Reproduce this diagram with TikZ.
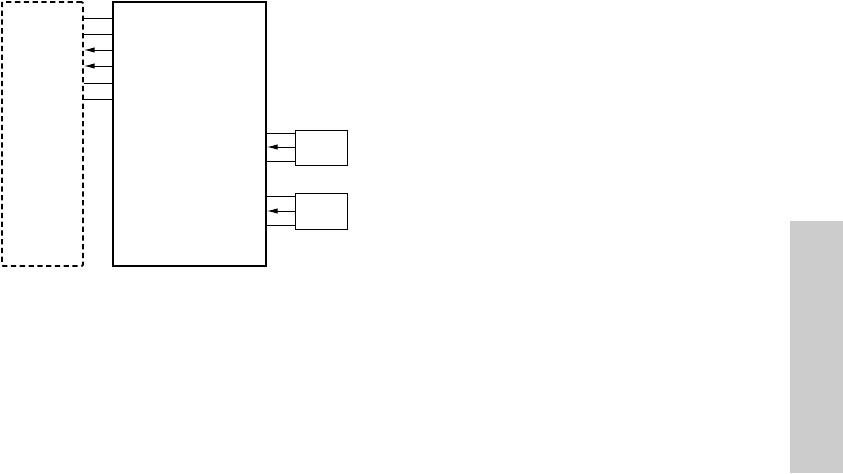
\documentclass[tikz,border=0pt]{standalone}
\usepackage{tikz}
\usetikzlibrary{positioning,arrows.meta,calc}
\usepackage{xcolor}

\begin{document}
\begin{tikzpicture}[x=0.03cm,y=-0.03cm,>={Latex[length=3.2mm,width=1.6mm]}]
\useasboundingbox (0,0) rectangle (843,473);
\tikzset{blk/.style={draw,line width=1.6pt,inner sep=0pt,anchor=north west},
  sig/.style={line width=0.8pt}}
\node[blk,dashed,dash pattern=on 4.5pt off 3pt,rounded corners=1pt,minimum width=81*0.03cm,minimum height=264*0.03cm] (ext) at (1,1) {};
\node[blk,minimum width=153*0.03cm,minimum height=264*0.03cm] (core) at (112,1) {};
\node[blk,line width=1.2pt,minimum width=52*0.03cm,minimum height=35*0.03cm] (dev1) at (295,130) {};
\node[blk,line width=1.2pt,minimum width=52*0.03cm,minimum height=36*0.03cm] (dev2) at (295,193) {};
\node[fill=black!20,inner sep=0pt,anchor=north west,minimum width=53*0.03cm,minimum height=252*0.03cm] (bar) at (790,221) {};
% bus between ext and core
\foreach \y/\tip in {18/-,34/-,50/->,66/->,83/-,99/-}
  \draw[sig,\tip] (core.west |- 0,\y) -- (ext.east |- 0,\y);
% device links
\foreach \y/\tip in {133/-,147/->,161/-}
  \draw[sig,\tip] (dev1.west |- 0,\y) -- (core.east |- 0,\y);
\foreach \y/\tip in {196/-,211/->,225/-}
  \draw[sig,\tip] (dev2.west |- 0,\y) -- (core.east |- 0,\y);
\end{tikzpicture}
\end{document}
